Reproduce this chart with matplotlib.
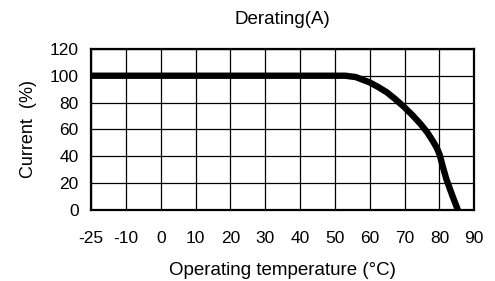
import numpy as np
import matplotlib
matplotlib.use('Agg')
import matplotlib.pyplot as plt

plt.rcParams['font.family'] = ['Liberation Sans', 'DejaVu Sans']

# x axis is drawn with equally spaced ticks (not linear in temperature)
temp_ticks = [-25, -10, 0, 10, 20, 30, 40, 50, 60, 70, 80, 90]
y_ticks = [0, 20, 40, 60, 80, 100, 120]

# derating curve
temp = [-25, 53, 56, 57.5, 60, 62.5, 65, 67.5, 70, 72.3, 74.6, 76.6,
        78.2, 79.3, 80.1, 80.9, 82.0, 83.6, 85.3]
current = [100, 100, 99, 97.5, 95, 91.5, 87.5, 82.2, 76.4, 70.5, 64, 57.5,
           51, 46, 41, 33, 23, 11.5, 0]

pos = np.arange(len(temp_ticks))
xpos = np.interp(temp, temp_ticks, pos)

fig = plt.figure(figsize=(4.95, 2.81), dpi=100)
ax = fig.add_axes([0.184, 0.253, 0.774, 0.573])

ax.plot(xpos, current, color='black', lw=4.6, solid_capstyle='round',
        solid_joinstyle='round', zorder=3)

ax.set_xlim(0, len(temp_ticks) - 1)
ax.set_ylim(0, 120)
ax.set_xticks(pos)
ax.set_xticklabels([str(t) for t in temp_ticks])
ax.set_yticks(y_ticks)
ax.grid(True, color='black', lw=0.9)
ax.tick_params(length=0, labelsize=12.5)
ax.tick_params(axis='x', pad=15)
ax.tick_params(axis='y', pad=9)
for s in ax.spines.values():
    s.set_linewidth(1.6)

ax.set_title('Derating(A)', fontsize=13.5, pad=18)
ax.set_xlabel('Operating temperature (°C)', fontsize=13.5, labelpad=12)
ax.set_ylabel('Current  (%)', fontsize=13, labelpad=9)

fig.savefig('out.png', dpi=100)
